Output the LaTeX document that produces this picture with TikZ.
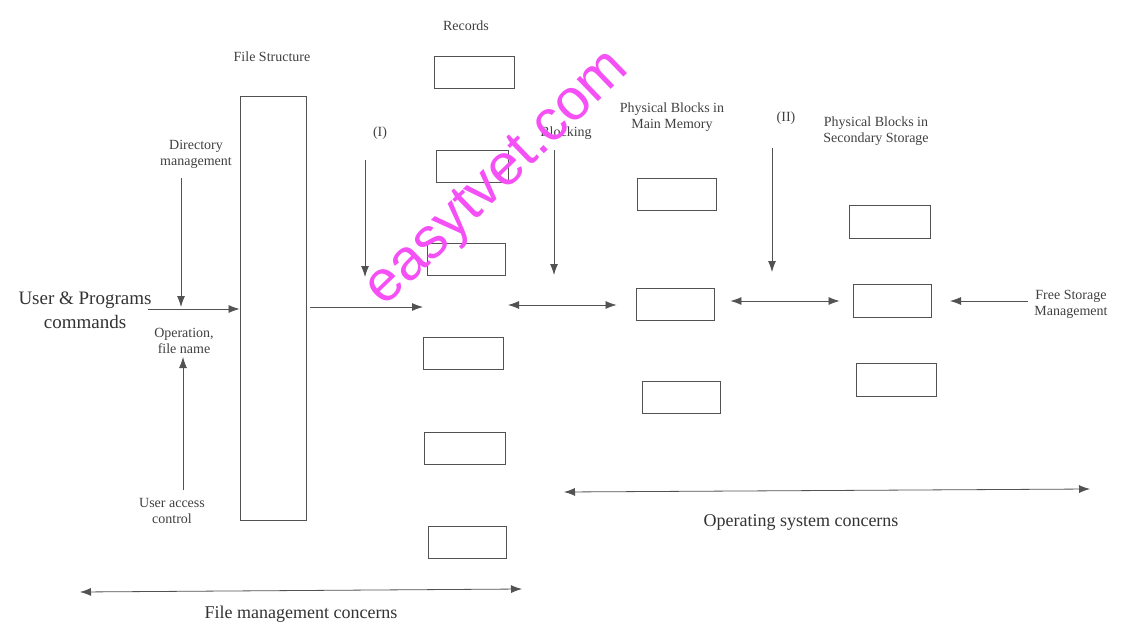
\documentclass[tikz,border=0pt]{standalone}
\usepackage{fontspec}
\setmainfont{Liberation Serif}
\newfontfamily\wmfont{Liberation Sans}
\usetikzlibrary{arrows.meta}
\definecolor{ln}{gray}{0.32}
\definecolor{wm}{RGB}{245,80,245}
\tikzset{
  lbl/.style={font=\fontsize{14}{16}\selectfont, text=black!75, align=center, inner sep=0pt},
  big/.style={font=\fontsize{19}{24}\selectfont, text=black!80, align=center, inner sep=0pt},
  rec/.style={draw=ln, line width=0.9pt, inner sep=0pt},
  arr/.style={draw=ln, line width=0.8pt, -{Latex[length=11pt,width=8pt]}},
  darr/.style={draw=ln, line width=0.8pt, {Latex[length=11pt,width=8pt]}-{Latex[length=11pt,width=8pt]}}
}
\begin{document}
\begin{tikzpicture}[x=1pt,y=-1pt]
\useasboundingbox (0,0) rectangle (1122,626);
% File structure
\node[lbl] (fstxt) at (272,57) {File Structure};
\node[rec, minimum width=66pt, minimum height=424pt] (fs) at (273,308) {};
% Records
\node[lbl] (rectxt) at (466,26) {Records};
\node[rec, minimum width=80pt, minimum height=32pt] (r1) at (474,72) {};
\node[rec, minimum width=72pt, minimum height=32pt] (r2) at (472,166) {};
\node[rec, minimum width=78pt, minimum height=32pt] (r3) at (466,259) {};
\node[rec, minimum width=80pt, minimum height=32pt] (r4) at (463,353) {};
\node[rec, minimum width=81pt, minimum height=32pt] (r5) at (465,448) {};
\node[rec, minimum width=78pt, minimum height=32pt] (r6) at (467,542) {};
% Left labels
\node[lbl] (dir) at (196,154) {Directory\\management};
\node[big] (user) at (85,310) {User \& Programs\\commands};
\node[lbl] (op) at (184,341) {Operation,\\file name};
\node[lbl] (uac) at (172,511) {User access\\control};
\coordinate (dirend) at (181,307);
\coordinate (uacend) at (183,357);
\coordinate (cmdstart) at (148,309);
\draw[arr] (181,178) -- (dirend);
\draw[arr] (183,490) -- (uacend);
\draw[arr] (cmdstart) -- (fs.west |- cmdstart);
% (I)
\node[lbl] (one) at (380,133) {(I)};
\coordinate (oneend) at (365,277);
\draw[arr] (365,160) -- (oneend);
\coordinate (fsout) at (423,307);
\draw[arr] (fs.east |- fsout) ++(4,0) -- (fsout);
% Blocking
\node[lbl] (blk) at (566,133) {Blocking};
\coordinate (blkend) at (554,275);
\draw[arr] (554,150) -- (blkend);
% Main memory
\node[lbl] (mmtxt) at (672,117) {Physical Blocks in\\Main Memory};
\node[rec, minimum width=79pt, minimum height=32pt] (m1) at (677,194) {};
\node[rec, minimum width=78pt, minimum height=32pt] (m2) at (675,304) {};
\node[rec, minimum width=78pt, minimum height=32pt] (m3) at (681,397) {};
\coordinate (recright) at (508,305);
\draw[darr] (recright) -- ([xshift=-19pt]m2.west |- recright);
% (II)
\node[lbl] (two) at (786,118) {(II)};
\coordinate (twoend) at (772,272);
\draw[arr] (772,148) -- (twoend);
% Secondary storage
\node[lbl] (sstxt) at (876,131) {Physical Blocks in\\Secondary Storage};
\node[rec, minimum width=81pt, minimum height=33pt] (s1) at (890,222) {};
\node[rec, minimum width=78pt, minimum height=33pt] (s2) at (892,301) {};
\node[rec, minimum width=80pt, minimum height=33pt] (s3) at (896,380) {};
\draw[darr] ([xshift=16pt]m2.east |- s2.west) -- ([xshift=-13pt]s2.west);
% Free storage
\node[lbl] (free) at (1071,304) {Free Storage\\Management};
\draw[arr] ([xshift=-6pt]free.west |- s2.west) -- ([xshift=-20pt]s2.east -| 970,0) ;
% concerns
\coordinate (osl) at (564,492);
\coordinate (osr) at (1090,489);
\draw[darr] (osl) -- (osr);
\node[big, font=\fontsize{18}{22}\selectfont] (ostxt) at (801,522) {Operating system concerns};
\coordinate (fml) at (80,592);
\coordinate (fmr) at (522,589);
\draw[darr] (fml) -- (fmr);
\node[big, font=\fontsize{18}{22}\selectfont] (fmtxt) at (301,614) {File management concerns};
% watermark
\node[font=\wmfont\fontsize{58}{58}\selectfont, text=wm, rotate=44, inner sep=0pt] (wmk) at (499,180) {easytvet.com};
\end{tikzpicture}
\end{document}
